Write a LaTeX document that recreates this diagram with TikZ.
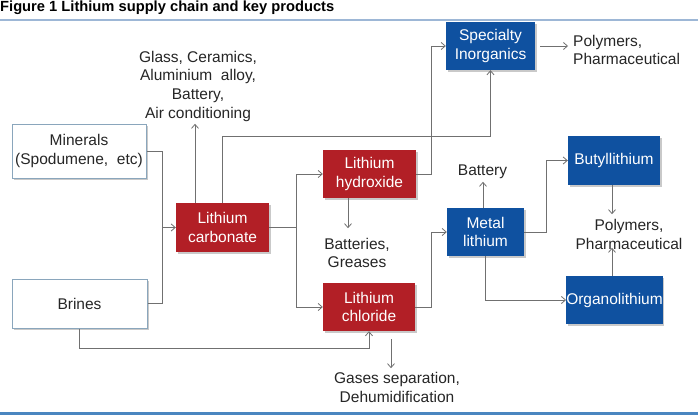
\documentclass[tikz,border=0pt]{standalone}
\usepackage{fontspec}
\setmainfont{Liberation Sans}
\usetikzlibrary{shadows,calc,arrows.meta}
\definecolor{redbox}{HTML}{B21F26}
\definecolor{bluebox}{HTML}{0F51A0}
\definecolor{lightframe}{HTML}{8AA6BC}
\definecolor{conn}{HTML}{707070}
\definecolor{txt}{HTML}{262626}
\definecolor{topline}{HTML}{9DB7D6}
\definecolor{botline}{HTML}{4A86C0}
\tikzset{
  every node/.style={font=\fontsize{15.5}{18.8}\selectfont, text=txt, align=center},
  boxbase/.style={inner sep=0pt, drop shadow={shadow xshift=1.5pt, shadow yshift=-1.5pt, opacity=0.35, fill=black!60}},
  redb/.style={boxbase, fill=redbox, text=white},
  blueb/.style={boxbase, fill=bluebox, text=white},
  whiteb/.style={boxbase, fill=white, draw=lightframe, line width=1pt},
  lbl/.style={inner sep=0pt},
  arr/.style={draw=conn, line width=0.8pt, -{Straight Barb[length=4pt,width=7pt]}},
  ln/.style={draw=conn, line width=0.8pt},
}
\begin{document}
\begin{tikzpicture}[x=1pt,y=-1pt]
\useasboundingbox (0,0) rectangle (698,415);
\fill[white] (0,0) rectangle (698,415);
% title
\node[anchor=west, inner sep=0pt, font=\fontsize{14.7}{16}\bfseries, text=black] (title) at (0,7.5) {Figure 1 Lithium supply chain and key products};
\draw[topline, line width=2pt] (0,19.5) -- (698,19.5);
\draw[botline, line width=2.2pt] (0,413.5) -- (698,413.5);

% boxes
\node[whiteb, minimum width=134pt, minimum height=54pt] (min) at (79,151) {Minerals\\(Spodumene,\ \ etc)};
\node[whiteb, minimum width=135pt, minimum height=49pt] (bri) at (79.5,303.5) {Brines};
\node[redb, minimum width=93pt, minimum height=49pt] (carb) at (222.5,227.5) {Lithium\\carbonate};
\node[redb, minimum width=93pt, minimum height=48pt] (hyd) at (369.5,174) {Lithium\\hydroxide};
\node[redb, minimum width=92pt, minimum height=48pt] (chl) at (369,307) {Lithium\\chloride};
\node[blueb, minimum width=89pt, minimum height=48pt] (spec) at (490.5,46) {Specialty\\Inorganics};
\node[blueb, minimum width=77pt, minimum height=48pt] (met) at (485.5,232) {Metal\\lithium};
\node[blueb, minimum width=92pt, minimum height=49pt] (but) at (614,160.5) {Butyllithium};
\node[blueb, minimum width=95pt, minimum height=48pt] (org) at (614.5,300) {Organolithium};

% labels
\node[lbl, anchor=south] (glass) at (198,122) {Glass, Ceramics,\\Aluminium\ \ alloy,\\Battery,\\Air conditioning};
\node[lbl, anchor=west, align=left] (poly1) at (573,50) {Polymers,\\Pharmaceutical};
\node[lbl] (bat) at (357,253) {Batteries,\\Greases};
\node[lbl] (gas) at (397,387.5) {Gases separation,\\Dehumidification};
\node[lbl] (batt) at (482.5,172) {Battery};
\node[lbl] (poly2) at (629,234.5) {Polymers,\\Pharmaceutical};

% connectors
\coordinate (j1) at (162,227.5);
\coordinate (j2) at (296,227.5);
\draw[arr] (min.east) -| (j1) -- (carb.west);
\draw[ln] (bri.east) -| (j1);
\draw[ln] (carb.east) -- (j2);
\draw[arr] (j2) |- (hyd.west);
\draw[arr] (j2) |- (chl.west);
\draw[arr] ($(carb.north)+(-27.5,0)$) -- ++(0,-79);
\draw[arr] (carb.north) -- ++(0,-66) -| (spec.south);
\draw[arr] (hyd.east) -- ++(15,0) |- (spec.west);
\draw[arr, shorten <=5pt] (spec.east) -- ($(poly1.west)+(-5,-4)$);
\draw[arr] ($(hyd.south)+(-21.5,0)$) -- ++(0,30);
\draw[arr] (bri.south) |- ($(chl.south)+(0,17)$) -- (chl.south);
\draw[arr] ($(chl.south)+(22,8)$) -- ++(0,29);
\draw[arr] (chl.east) -- ++(16,0) |- (met.west);
\draw[arr] ($(met.north)+(-2.5,0)$) -- ++(0,-26);
\draw[arr] (met.east) -- ++(22,0) |- (but.west);
\draw[arr] (met.south) |- (org.west);
\draw[arr] ($(but.south)+(-2,0)$) -- ++(0,29);
\draw[arr] ($(org.north)+(-2.5,0)$) -- ++(0,-28);
\end{tikzpicture}
\end{document}
